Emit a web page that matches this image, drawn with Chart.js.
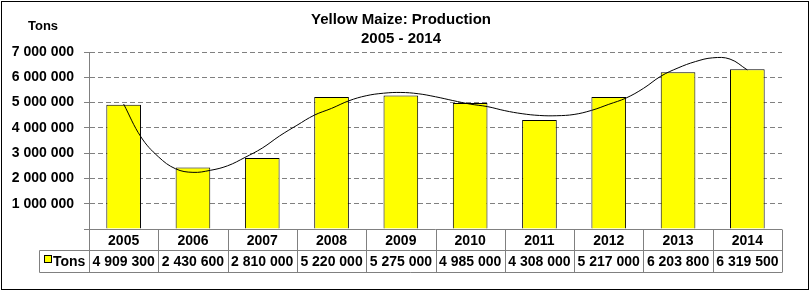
<!DOCTYPE html>
<html>
<head>
<meta charset="utf-8">
<script src="https://cdn.jsdelivr.net/npm/chart.js@4"></script>
<style>
  body { margin: 0; background: #fff; }
  #wrap { width: 811px; height: 291px; }
</style>
</head>
<body>
<div id="wrap"><canvas id="maizeChart" width="811" height="291"></canvas></div>
<script>
// data
const years = ['2005', '2006', '2007', '2008', '2009', '2010', '2011', '2012', '2013', '2014'];
const tons = [4909300, 2430600, 2810000, 5220000, 5275000, 4985000, 4308000, 5217000, 6203800, 6319500];
const yTicks = [1000000, 2000000, 3000000, 4000000, 5000000, 6000000, 7000000];

// trend line as drawn in the picture (position in category index, value)
const trendPos = [0, 0.25, 0.5, 0.75, 1, 1.25, 1.5, 1.75, 2, 2.25, 2.5, 2.75, 3, 3.25, 3.5, 3.75, 4, 4.25, 4.5, 4.75,
    5, 5.25, 5.5, 5.75, 6, 6.25, 6.5, 6.75, 7, 7.25, 7.5, 7.75, 8, 8.25, 8.5, 8.75, 9];
const trendVal = [4940000, 3640000, 2860000, 2380000, 2240000, 2320000, 2500000, 2830000, 3200000, 3680000, 4100000,
    4500000, 4770000, 5070000, 5270000, 5370000, 5400000, 5350000, 5230000, 5080000, 4940000, 4840000, 4680000,
    4560000, 4490000, 4480000, 4530000, 4690000, 4930000, 5180000, 5560000, 6040000, 6370000, 6620000, 6770000,
    6720000, 6290000];

const titleLines = ['Yellow Maize: Production', '2005 - 2014'];
const seriesName = 'Tons';

function spaced(v) {
    return String(v).replace(/\B(?=(\d{3})+(?!\d))/g, ' ');
}

const FONT = '"Liberation Sans", Arial, sans-serif';
const GRID = '#808080';

const tablePlugin = {
    id: 'tablePlugin',
    afterDraw(chart) {
        const ctx = chart.ctx;
        const area = chart.chartArea;
        const xs = chart.scales.x;
        const colW = (area.right - area.left) / years.length;
        const top = Math.round(area.bottom) + 0.5;
        const mid = top + 21;
        const bot = mid + 22;
        const legLeft = 39.5;

        ctx.save();
        // grid of the data table
        ctx.strokeStyle = GRID;
        ctx.lineWidth = 1;
        ctx.beginPath();
        ctx.moveTo(area.left, top); ctx.lineTo(area.right, top);
        ctx.moveTo(legLeft, mid); ctx.lineTo(area.right, mid);
        ctx.moveTo(legLeft, bot); ctx.lineTo(area.right, bot);
        ctx.moveTo(legLeft, mid); ctx.lineTo(legLeft, bot);
        for (let i = 0; i <= years.length; i++) {
            const x = Math.round(area.left + i * colW) + 0.5;
            ctx.moveTo(x, top); ctx.lineTo(x, bot);
        }
        ctx.stroke();

        ctx.fillStyle = '#000';
        ctx.textAlign = 'center';
        ctx.textBaseline = 'middle';
        ctx.font = 'bold 14px ' + FONT;
        years.forEach((y, i) => {
            const cx = xs.getPixelForValue(i);
            ctx.fillText(y, cx, (top + mid) / 2 + 1);
            ctx.fillText(spaced(tons[i]), cx, (mid + bot) / 2 + 1);
        });

        // legend cell
        ctx.fillStyle = '#ffff00';
        ctx.fillRect(45, 256, 6, 6);
        ctx.strokeStyle = '#000';
        ctx.strokeRect(44.5, 255.5, 7, 7);
        ctx.fillStyle = '#000';
        ctx.textAlign = 'left';
        ctx.fillText(seriesName, 53, (mid + bot) / 2 + 1);

        // axis title
        ctx.font = 'bold 13px ' + FONT;
        ctx.fillText(seriesName, 28, 26);

        // chart title
        ctx.textAlign = 'center';
        ctx.font = 'bold 15px ' + FONT;
        ctx.fillText(titleLines[0], 401, 20);
        ctx.fillText(titleLines[1], 401, 39);

        // outer frame
        ctx.strokeStyle = '#000';
        ctx.strokeRect(1.5, 1.5, 807, 288);
        ctx.restore();
    }
};

const ctx = document.getElementById('maizeChart').getContext('2d');
new Chart(ctx, {
    type: 'bar',
    data: {
        labels: years,
        datasets: [{
            type: 'line',
            label: 'Trend',
            data: trendPos.map((p, i) => ({ x: p, y: trendVal[i] })),
            xAxisID: 'xt',
            borderColor: '#000',
            borderWidth: 1,
            pointRadius: 0,
            tension: 0.4,
            fill: false,
            order: 0,
        }, {
            label: seriesName,
            data: tons,
            xAxisID: 'x',
            backgroundColor: '#ffff00',
            borderColor: '#000',
            borderWidth: 1,
            barPercentage: 0.5,
            categoryPercentage: 1,
            grouped: false,
            order: 1,
        }],
    },
    options: {
        responsive: false,
        animation: false,
        layout: { padding: { left: 0, right: 29, top: 52, bottom: 62 } },
        plugins: {
            legend: { display: false },
            title: { display: false },
            tooltip: { enabled: false },
        },
        scales: {
            x: { type: 'category', display: false, offset: true },
            xt: { type: 'linear', axis: 'x', display: false, offset: false, min: -0.5, max: 9.5 },
            y: {
                min: 0,
                max: 7000000,
                afterFit: (s) => { s.width = 89; },
                afterBuildTicks: (s) => { s.ticks = [0].concat(yTicks).map(v => ({ value: v })); },
                ticks: {
                    color: '#000',
                    padding: 10,
                    font: { family: FONT, size: 14, weight: 'bold' },
                    callback: (v) => v === 0 ? '' : spaced(v),
                },
                grid: {
                    color: (c) => c.tick && c.tick.value === 0 ? 'rgba(0,0,0,0)' : GRID,
                    tickColor: GRID,
                    tickLength: 5,
                },
                border: { display: true, color: GRID, dash: [5, 3] },
            },
        },
    },
    plugins: [tablePlugin],
});
</script>
</body>
</html>
